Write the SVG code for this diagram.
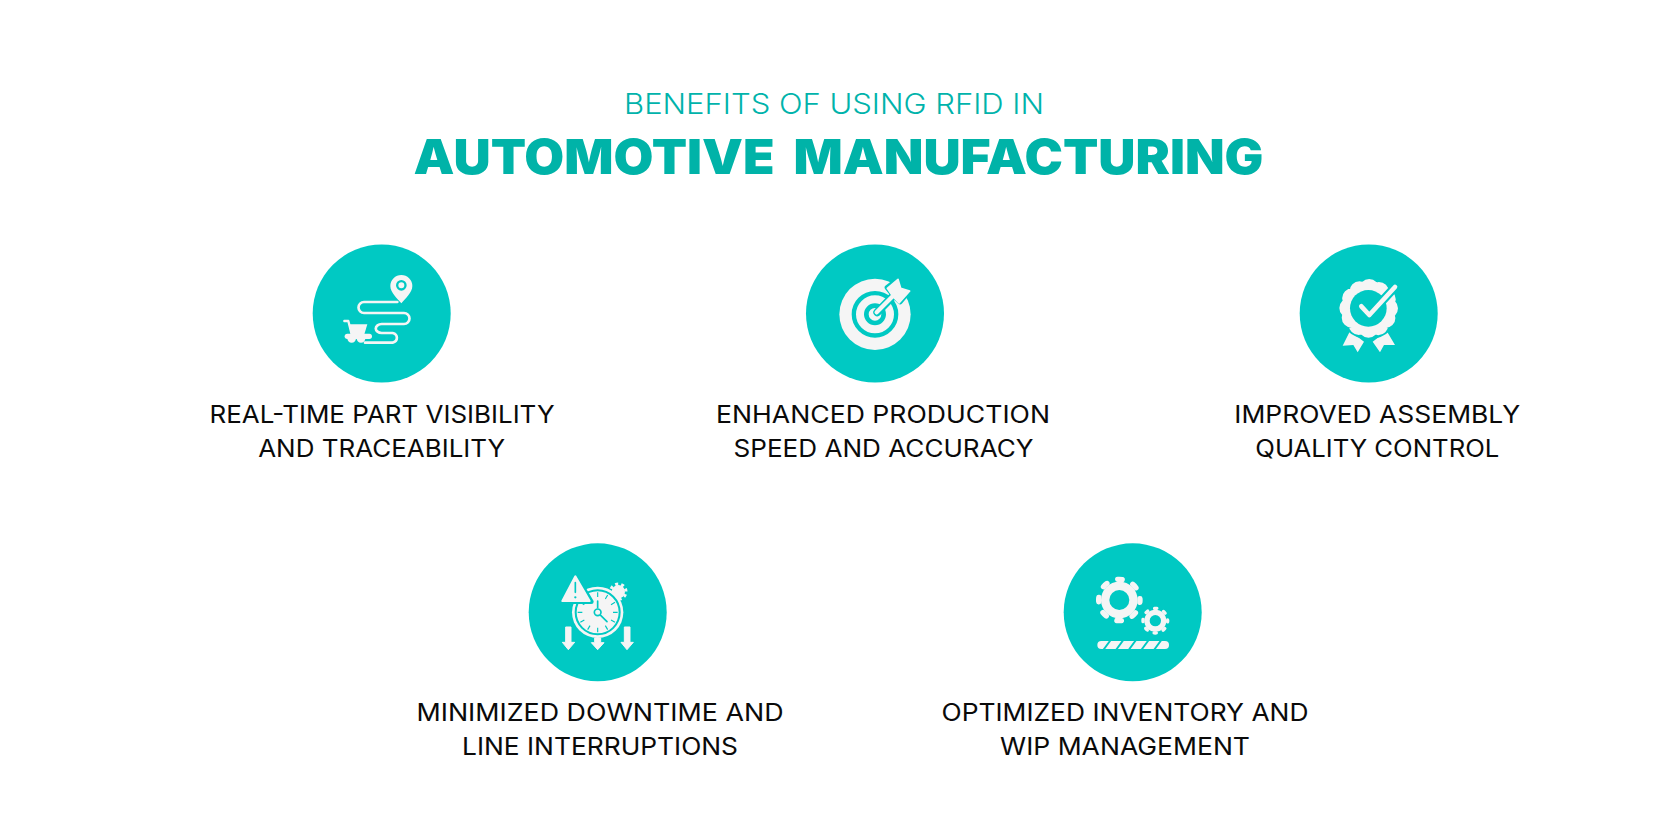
<svg xmlns="http://www.w3.org/2000/svg" width="1667" height="834" viewBox="0 0 1667 834">
<style>
text{font-family:"Inter","Noto Sans","Liberation Sans",sans-serif;text-anchor:middle}
.lbl{font-size:24.5px;font-weight:400;fill:#0a0a0a}
.disc{fill:#00c9c3}
.w{fill:#f5f5f5}
.t{fill:#00c9c3}
.ln{fill:none;stroke:#f5f5f5;stroke-linecap:round;stroke-linejoin:round}
.tl{fill:none;stroke:#00c9c3;stroke-linecap:round;stroke-linejoin:round}
</style>
<rect width="1667" height="834" fill="#fff"/>
<g id="title">
<text x="834" y="114" font-size="28.5" font-weight="300" fill="#00b3ab" textLength="420" lengthAdjust="spacingAndGlyphs">BENEFITS OF USING RFID IN</text>
<text x="838.5" y="174" font-size="48" font-weight="900" fill="#00b3a8" word-spacing="8" textLength="850" lengthAdjust="spacingAndGlyphs">AUTOMOTIVE MANUFACTURING</text>
</g>
<g id="connectors"/>
<g id="node-visibility">
<circle class="disc" cx="381.7" cy="313.5" r="69"/>
<g transform="translate(300 235) scale(.33333)">
<path class="ln" stroke-width="8" d="M292 201H192a16 16 0 0 0 0 33H312a16 16 0 0 1 0 33H245a17 13 0 0 0 0 27H278a17 15 0 0 1 0 29H195"/>
<path class="w" d="M304 120a33 33 0 0 1 33 33c0 20-21 37-33 52c-12-15-33-32-33-52a33 33 0 0 1 33-33z"/>
<circle cx="304" cy="151" r="12.5" fill="#f5f5f5" stroke="#00c9c3" stroke-width="7"/>
<path class="ln" stroke-width="7" d="M133 258H145L155 298"/>
<path class="w" d="M146 268H202L193 298H153z"/>
<rect class="w" x="134" y="296" width="82" height="16" rx="8"/>
<path class="w" d="M142 310H168A13 13 0 0 1 142 310zM170 310H196A13 13 0 0 1 170 310z"/>
</g>
<text class="lbl" x="382" y="423.3" textLength="345" lengthAdjust="spacingAndGlyphs">REAL-TIME PART VISIBILITY</text>
<text class="lbl" x="381.7" y="456.7" textLength="247" lengthAdjust="spacingAndGlyphs">AND TRACEABILITY</text>
</g>
<g id="node-speed">
<circle class="disc" cx="875" cy="313.5" r="69"/>
<g transform="translate(800 235) scale(.33333)">
<circle class="w" cx="225" cy="238" r="107"/>
<circle cx="225" cy="238" r="63.5" fill="none" stroke="#00c9c3" stroke-width="13"/>
<circle cx="225" cy="238" r="26" fill="none" stroke="#00c9c3" stroke-width="14"/>
<path class="tl" stroke-width="24" d="M232 232L290 172"/>
<path d="M262 158L293 134L303 150L327 168L300 200L283 184z" fill="#00c9c3" stroke="#00c9c3" stroke-width="16" stroke-linejoin="round"/>
<path class="ln" stroke-width="13" d="M230 232L290 172"/>
<path class="w" stroke="#f5f5f5" stroke-width="5" stroke-linejoin="round" d="M262 160L294 133L302 160L329 168L297 204L280 186z"/>
</g>
<text class="lbl" x="883" y="423.3" textLength="334" lengthAdjust="spacingAndGlyphs">ENHANCED PRODUCTION</text>
<text class="lbl" x="883.5" y="456.7" textLength="300" lengthAdjust="spacingAndGlyphs">SPEED AND ACCURACY</text>
</g>
<g id="node-quality">
<circle class="disc" cx="1368.7" cy="313.5" r="69"/>
<g transform="translate(1285 235) scale(.33333)">
<path class="w" d="M195 288L237 320L218 352L205 330L173 332zM305 288L263 320L285 352L297 330L330 330z"/>
<circle cx="251" cy="220" r="93" fill="#00c9c3"/>
<circle cx="251" cy="220" r="58" fill="none" stroke="#f5f5f5" stroke-width="60" stroke-linecap="round" stroke-dasharray="0 30.37"/>
<circle class="t" cx="250" cy="220" r="55"/>
<path class="tl" stroke-width="26" d="M229 214L253 240L330 156"/>
<path class="ln" stroke-width="14" d="M229 214L253 240L330 156"/>
</g>
<text class="lbl" x="1377.3" y="423.3" textLength="286" lengthAdjust="spacingAndGlyphs">IMPROVED ASSEMBLY</text>
<text class="lbl" x="1377.3" y="456.7" textLength="244" lengthAdjust="spacingAndGlyphs">QUALITY CONTROL</text>
</g>
<g id="node-downtime">
<circle class="disc" cx="597.7" cy="612.3" r="69"/>
<g transform="translate(515 535) scale(.33333)">
<circle class="w" cx="310" cy="170" r="20"/>
<circle cx="310" cy="170" r="23" fill="none" stroke="#f5f5f5" stroke-width="9" stroke-dasharray="9 9.06" transform="rotate(20 310 170)"/>
<circle class="w" cx="248" cy="232" r="77"/>
<circle cx="248" cy="232" r="66" fill="none" stroke="#00c9c3" stroke-width="6"/>
<g stroke="#00c9c3" stroke-width="3.5">
<path d="M248 172V186M248 278V292M188 232H202M294 232H308M218 180L225 192M278 284L271 272M196 202L208 209M300 262L288 255M278 180L271 192M218 284L225 272M300 202L288 209M196 262L208 255"/>
</g>
<path class="tl" stroke-width="5" d="M248 198V218M257 241L276 260"/>
<circle cx="248" cy="232" r="10" fill="#f5f5f5" stroke="#00c9c3" stroke-width="5"/>
<path d="M181 120L138 200H229z" fill="#f5f5f5" stroke="#00c9c3" stroke-width="14" stroke-linejoin="round"/>
<path d="M181 124L142 198H224z" fill="#f5f5f5" stroke="#f5f5f5" stroke-width="6" stroke-linejoin="round"/>
<path class="tl" stroke-width="5" d="M181 143V172"/>
<circle class="t" cx="181" cy="187" r="3.5"/>
<g fill="#f5f5f5" stroke="#f5f5f5" stroke-width="3" stroke-linejoin="round">
<path d="M152 276H168V322H179L160 344L142 322H152z"/>
<path d="M239 309H257V323H267L248 344L229 323H239z"/>
<path d="M328 276H345V322H355L336 344L318 322H328z"/>
</g>
</g>
<text class="lbl" x="600" y="721.3" textLength="367" lengthAdjust="spacingAndGlyphs">MINIMIZED DOWNTIME AND</text>
<text class="lbl" x="600" y="754.7" textLength="276" lengthAdjust="spacingAndGlyphs">LINE INTERRUPTIONS</text>
</g>
<g id="node-inventory">
<circle class="disc" cx="1132.7" cy="612.3" r="69"/>
<g transform="translate(1050 535) scale(.33333)">
<circle class="w" cx="208" cy="195" r="55"/>
<circle cx="208" cy="195" r="62" fill="none" stroke="#f5f5f5" stroke-width="16" stroke-linecap="round" stroke-dasharray="14 34.7" stroke-dashoffset="7"/>
<circle class="t" cx="208" cy="195" r="30"/>
<circle class="w" cx="316" cy="257" r="33"/>
<circle cx="316" cy="257" r="37" fill="none" stroke="#f5f5f5" stroke-width="10" stroke-linecap="round" stroke-dasharray="7 22.06" stroke-dashoffset="3.5"/>
<circle class="t" cx="316" cy="257" r="17"/>
<rect class="w" x="142" y="318" width="215" height="24" rx="12"/>
<path class="tl" stroke-width="6" stroke-linecap="butt" d="M160 345L182 315M198 345L220 315M236 345L258 315M274 345L296 315M312 345L334 315"/>
</g>
<text class="lbl" x="1125" y="721.3" textLength="367" lengthAdjust="spacingAndGlyphs">OPTIMIZED INVENTORY AND</text>
<text class="lbl" x="1125" y="754.7" textLength="250" lengthAdjust="spacingAndGlyphs">WIP MANAGEMENT</text>
</g>
</svg>
